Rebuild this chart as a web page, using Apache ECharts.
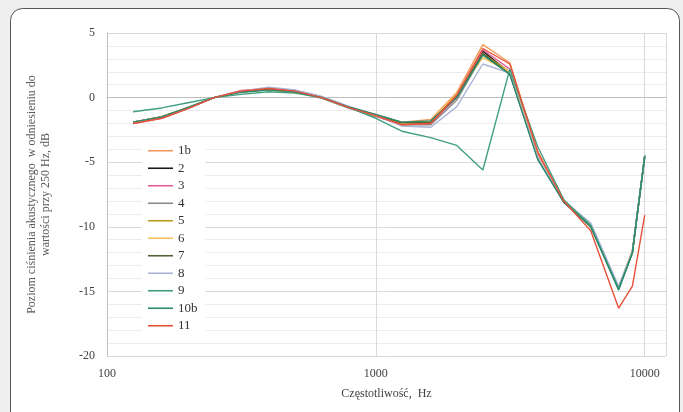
<!DOCTYPE html>
<html>
<head>
<meta charset="utf-8">
<script src="https://cdn.jsdelivr.net/npm/echarts@6/dist/echarts.min.js"></script>
<style>
  html, body { margin: 0; padding: 0; background: #efefef; }
  #chart { width: 683px; height: 412px; }
</style>
</head>
<body>
<div id="chart"></div>
<script>
// third-octave band frequencies, Hz
var freqs = [125, 160, 200, 250, 315, 400, 500, 630, 800, 1000, 1250, 1600, 2000, 2500, 3150, 4000, 5000, 6300, 8000, 9000, 10000];

var names = ['1b', '2', '3', '4', '5', '6', '7', '8', '9', '10b', '11'];
var colors = ['#f29a5c', '#1a1a1a', '#e2609a', '#8c8c8c', '#b99a1e', '#f6c15a', '#4f6337', '#a9b3d6', '#3f9f80', '#2b8c70', '#e8503a'];

var s1b = [-2.0, -1.5, -0.8, 0, 0.5, 0.65, 0.5, 0.05, -0.75, -1.35, -1.9, -1.7, 0.4, 4.1, 2.7, -4.2, -8.0, -10.0, -14.7, -11.9, -4.6];
var s2  = [-1.9, -1.5, -0.8, 0, 0.5, 0.7, 0.45, 0, -0.8, -1.4, -2.0, -1.9, 0.1, 3.6, 1.9, -4.6, -8.0, -9.9, -14.8, -11.9, -4.5];
var s3  = [-2.0, -1.6, -0.85, 0, 0.55, 0.7, 0.55, 0.05, -0.8, -1.45, -2.1, -2.0, 0.0, 3.7, 2.2, -4.4, -8.1, -9.9, -14.8, -12.0, -4.6];
var s4  = [-1.9, -1.5, -0.8, 0, 0.45, 0.6, 0.4, -0.05, -0.85, -1.45, -2.1, -2.1, -0.2, 3.3, 1.9, -4.7, -8.1, -9.8, -14.7, -11.9, -4.6];
var s5  = [-1.9, -1.45, -0.75, 0, 0.45, 0.6, 0.4, 0, -0.8, -1.4, -2.0, -1.9, 0.2, 3.4, 2.0, -4.6, -8.0, -9.9, -14.8, -12.0, -4.6];
var s6  = [-1.95, -1.5, -0.8, 0, 0.5, 0.6, 0.45, 0, -0.8, -1.4, -2.0, -1.8, 0.3, 3.1, 2.0, -4.5, -8.0, -9.9, -14.7, -11.8, -4.6];
var s7  = [-1.9, -1.5, -0.8, 0, 0.45, 0.65, 0.45, 0, -0.8, -1.35, -1.95, -1.9, 0.1, 3.4, 1.8, -4.7, -8.1, -10.0, -14.8, -12.0, -4.5];
var s8  = [-1.9, -1.5, -0.8, 0, 0.5, 0.8, 0.6, 0.1, -0.7, -1.35, -2.2, -2.3, -0.7, 2.6, 1.9, -4.6, -8.0, -9.7, -14.6, -11.9, -4.6];
var s9  = [-1.1, -0.8, -0.4, 0, 0.25, 0.45, 0.35, 0.0, -0.8, -1.6, -2.6, -3.1, -3.7, -5.6, 2.2, -3.8, -7.9, -9.9, -14.8, -12.0, -4.5];
var s10b = [-1.9, -1.5, -0.75, 0, 0.4, 0.6, 0.45, 0, -0.75, -1.3, -1.9, -1.8, 0.0, 3.3, 1.8, -4.8, -8.1, -10.0, -14.9, -12.0, -4.6];
var s11 = [-2.0, -1.6, -0.85, 0, 0.5, 0.7, 0.5, 0, -0.8, -1.4, -2.1, -2.0, 0.2, 3.8, 2.6, -4.2, -8.0, -10.3, -16.3, -14.6, -9.1];

var allValues = [s1b, s2, s3, s4, s5, s6, s7, s8, s9, s10b, s11];

var yTicks = [5, 0, -5, -10, -15, -20];

var font = 'Liberation Serif';

var myChart = echarts.init(document.getElementById('chart'));

var series = names.map(function (n, i) {
  return {
    name: n,
    type: 'line',
    symbol: 'none',
    data: freqs.map(function (f, j) { return [f, allValues[i][j]]; }),
    lineStyle: { color: colors[i], width: 1.4 },
    itemStyle: { color: colors[i] }
  };
});

myChart.setOption({
  animation: false,
  backgroundColor: '#efefef',
  textStyle: { fontFamily: font },
  graphic: [{
    type: 'rect',
    z: -10,
    shape: { x: 10.5, y: 8.5, width: 669, height: 420, r: 12 },
    style: { fill: '#ffffff', stroke: '#555555', lineWidth: 1 }
  }],
  grid: { left: 107, top: 33, width: 559, height: 323 },
  legend: {
    orient: 'vertical',
    left: 142,
    top: 138,
    icon: 'rect',
    itemWidth: 25,
    itemHeight: 1.6,
    itemGap: 0,
    padding: [4, 8, 6, 6],
    backgroundColor: '#ffffff',
    textStyle: { fontFamily: font, fontSize: 13, color: '#333333', lineHeight: 17.5 },
    data: names
  },
  xAxis: {
    type: 'log',
    logBase: 10,
    min: 100,
    max: 12000,
    name: 'Częstotliwość,  Hz',
    nameLocation: 'middle',
    nameGap: 32,
    nameTextStyle: { fontFamily: font, fontSize: 12, color: '#404040' },
    axisLine: { show: true, lineStyle: { color: '#bfbfbf' } },
    axisTick: { show: false },
    axisLabel: {
      showMaxLabel: false, margin: 12, fontFamily: font, fontSize: 12, color: '#404040',
      formatter: function (v) { return String(Math.round(v)); }
    },
    splitLine: { show: true, lineStyle: { color: '#d9d9d9' } }
  },
  yAxis: {
    type: 'value',
    min: -20,
    max: 5,
    interval: 5,
    name: 'Poziom ciśnienia akustycznego  w odniesieniu do\nwartości przy 250 Hz, dB',
    nameLocation: 'middle',
    nameGap: 54,
    nameTextStyle: { fontFamily: font, fontSize: 12, color: '#595959', lineHeight: 14 },
    axisLine: { show: true, lineStyle: { color: '#bfbfbf' } },
    axisTick: { show: false },
    axisLabel: {
      margin: 12, fontFamily: font, fontSize: 12, color: '#404040',
      formatter: function (v) { return yTicks.indexOf(v) >= 0 ? String(v) : ''; }
    },
    splitLine: { show: true, lineStyle: { color: '#d9d9d9' } },
    minorTick: { show: false, splitNumber: 5 },
    minorSplitLine: { show: true, lineStyle: { color: '#ececec' } }
  },
  series: series
});
</script>
</body>
</html>
